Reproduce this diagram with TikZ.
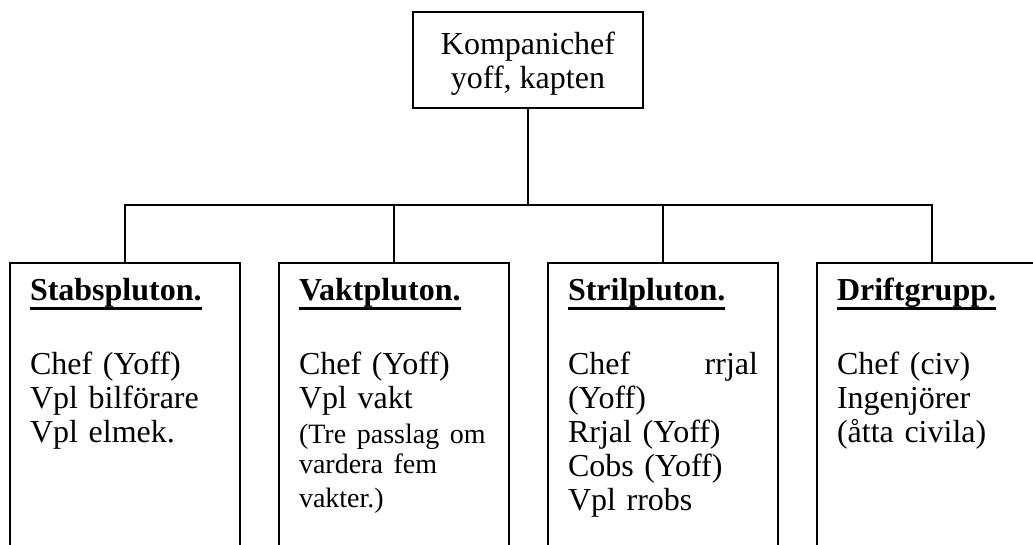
\documentclass[tikz,border=0pt]{standalone}
\usepackage{fontspec}
\setmainfont{Liberation Serif}
\usetikzlibrary{positioning}

\begin{document}
\begin{tikzpicture}[
    x=1pt, y=-1pt,
    line width=1.6pt,
    node distance = 37.4pt,
    chefbox/.style={draw, align=center, minimum width=230pt, minimum height=96pt,
        text height=64pt, font=\fontsize{32}{34}\selectfont},
    unitbox/.style={draw, text width=190pt, inner xsep=20pt, inner ysep=10pt,
        text height=28pt, text depth=270pt, align=left,
        font=\fontsize{32}{34}\selectfont},
]

% Heading of a unit, with a thick underline and a blank line after it
\newcommand{\unittitle}[1]{%
    \setbox0=\hbox{\textbf{#1}}\rlap{\rule[-9.5pt]{\wd0}{3pt}}\box0\\[40pt]}
\newcommand{\notefont}{\fontsize{28}{30}\selectfont}

% Page frame; the unit boxes run on past the bottom and the right edge
\useasboundingbox (0,0) rectangle (1033,545);
\clip (0,0) rectangle (1033,545);

% Company commander
\node[chefbox] (chef) at (528,60) {Kompanichef\\yoff, kapten};

% The four units
\node[unitbox, anchor=north] (stab) at (125,262) {
    \unittitle{Stabspluton.}
    Chef (Yoff)\\
    Vpl bilförare\\
    Vpl elmek.
};

\node[unitbox, right=of stab] (vakt) {
    \unittitle{Vaktpluton.}
    Chef (Yoff)\\
    Vpl vakt\par\vspace{5pt}
    \notefont (Tre passlag om\\
    vardera fem\\
    vakter.)
};

\node[unitbox, right=of vakt] (stril) {
    \unittitle{Strilpluton.}
    Chef\hfill rrjal\\
    (Yoff)\\
    Rrjal (Yoff)\\
    Cobs (Yoff)\\
    Vpl rrobs
};

\node[unitbox, right=of stril] (drift) {
    \unittitle{Driftgrupp.}
    Chef (civ)\\
    Ingenjörer\\
    (åtta civila)
};

% Tree lines from the commander down to every unit
\coordinate (split) at (528,205);
\draw (chef) -- (split);
\draw (stab.north) |- (split) -| (drift.north);
\draw (vakt.north) -- (vakt.north |- split);
\draw (stril.north) -- (stril.north |- split);

\end{tikzpicture}
\end{document}
